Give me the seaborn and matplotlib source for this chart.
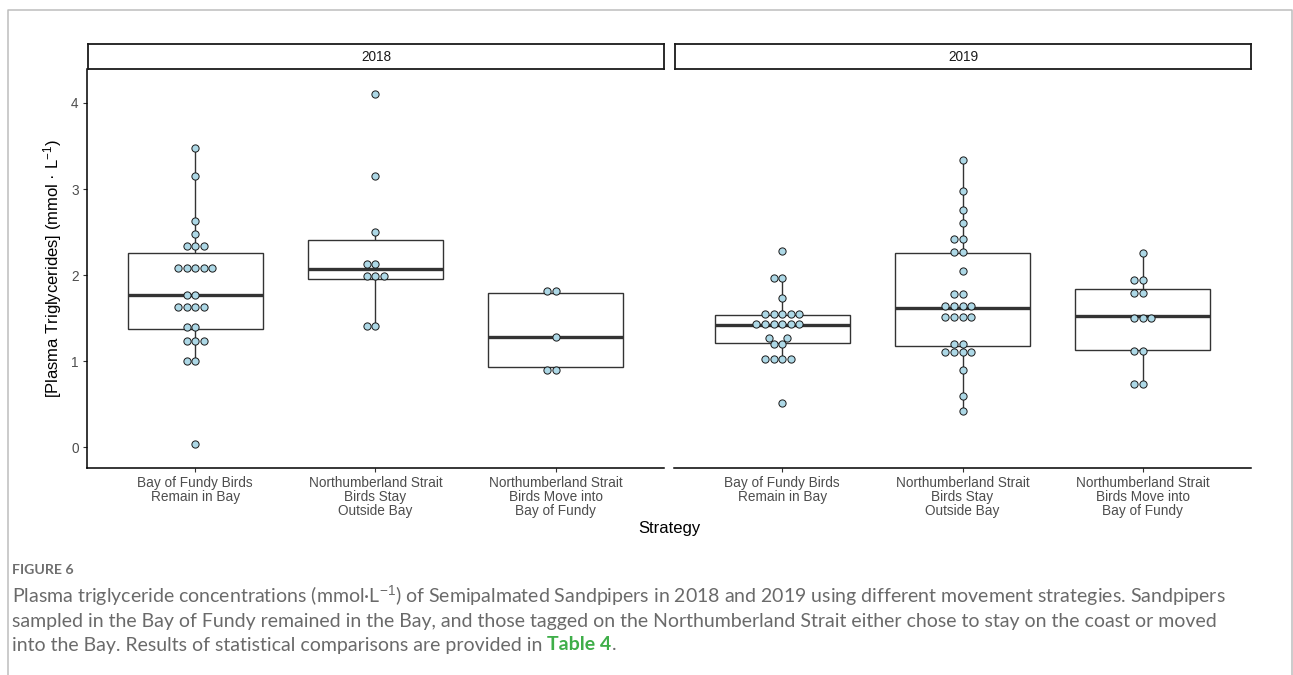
import matplotlib
matplotlib.use("Agg")
import matplotlib.pyplot as plt
import numpy as np
import pandas as pd
import seaborn as sns
from matplotlib.lines import Line2D

# ---- data: plasma triglycerides (mmol/L) by year and movement strategy ----
strategies = [
    "Bay of Fundy Birds\nRemain in Bay",
    "Northumberland Strait\nBirds Stay\nOutside Bay",
    "Northumberland Strait\nBirds Move into\nBay of Fundy",
]
years = ["2018", "2019"]

tg_2018_fundy = [0.04, 0.99, 1.02, 1.21, 1.23, 1.26, 1.36, 1.43, 1.60, 1.62,
                 1.65, 1.67, 1.75, 1.79, 2.05, 2.07, 2.08, 2.09, 2.11, 2.30,
                 2.33, 2.37, 2.48, 2.63, 3.15, 3.48]
tg_2018_stay = [1.40, 1.41, 1.95, 1.97, 2.025, 2.12, 2.14, 2.50, 3.15, 4.10]
tg_2018_move = [0.86, 0.93, 1.28, 1.79, 1.85]

tg_2019_fundy = [0.52, 1.00, 1.01, 1.03, 1.05, 1.17, 1.22, 1.255, 1.29, 1.395,
                 1.40, 1.41, 1.42, 1.45, 1.47, 1.51, 1.52, 1.53, 1.55, 1.585,
                 1.73, 1.95, 1.99, 2.28]
tg_2019_stay = [0.42, 0.60, 0.90, 1.065, 1.09, 1.11, 1.14, 1.19, 1.21, 1.48,
                1.50, 1.52, 1.54, 1.61, 1.63, 1.65, 1.68, 1.76, 1.80, 2.05,
                2.24, 2.29, 2.40, 2.44, 2.60, 2.76, 2.98, 3.34]
tg_2019_move = [0.71, 0.75, 1.10, 1.145, 1.465, 1.52, 1.535, 1.76, 1.815, 1.93,
                1.96, 2.26]

groups = {
    ("2018", strategies[0]): tg_2018_fundy,
    ("2018", strategies[1]): tg_2018_stay,
    ("2018", strategies[2]): tg_2018_move,
    ("2019", strategies[0]): tg_2019_fundy,
    ("2019", strategies[1]): tg_2019_stay,
    ("2019", strategies[2]): tg_2019_move,
}

DOT_BINWIDTH = 0.08


def dot_bins(values, binwidth=DOT_BINWIDTH):
    """Dot-density binning: each dot sits at the centre of its bin's values."""
    v = np.sort(np.asarray(values, dtype=float))
    out = np.empty_like(v)
    i = 0
    while i < len(v):
        j = i
        while j < len(v) and v[j] < v[i] + binwidth - 1e-9:
            j += 1
        out[i:j] = (v[i] + v[j - 1]) / 2
        i = j
    return out


rows = []
for (yr, st), vals in groups.items():
    for raw, binned in zip(np.sort(vals), dot_bins(vals)):
        rows.append((yr, st, raw, binned))
df = pd.DataFrame(rows, columns=["year", "strategy", "tg", "tg_dot"])

# ---- style ----
sns.set_theme(style="ticks")
plt.rcParams["font.family"] = ["Liberation Sans", "DejaVu Sans"]
plt.rcParams["mathtext.fontset"] = "custom"
plt.rcParams["mathtext.rm"] = "Liberation Sans"
plt.rcParams["mathtext.it"] = "Liberation Sans:italic"
plt.rcParams["mathtext.bf"] = "Liberation Sans:bold"

W, H = 1293, 675
fig = plt.figure(figsize=(W / 100, H / 100), dpi=100)
fig.patch.set_facecolor("white")


def box(x0, y0, x1, y1):
    """Pixel box (top-left origin) -> figure fraction rect."""
    return [x0 / W, 1 - y1 / H, (x1 - x0) / W, (y1 - y0) / H]


panel_top, panel_bottom = 69.3, 467.7
panels = [(87.0, 664.0), (674.0, 1251.0)]
tick_grey = "#4D4D4D"
line_grey = "#333333"

for i, (yr, (px0, px1)) in enumerate(zip(years, panels)):
    ax = fig.add_axes(box(px0, panel_top, px1, panel_bottom))
    sub = df[df["year"] == yr]
    sns.boxplot(data=sub, x="strategy", y="tg", order=strategies, ax=ax,
                width=0.75, color="white", linecolor=line_grey, linewidth=1.0,
                showfliers=False, showcaps=False, whis=1.5,
                medianprops=dict(linewidth=2.4, color=line_grey))
    sns.swarmplot(data=sub, x="strategy", y="tg_dot", order=strategies, ax=ax,
                  color="#ADD8E6", edgecolor="#1A1A1A", linewidth=0.7, size=5.2)
    ax.set_xlim(-0.6, 2.6)
    ax.set_ylim(-0.237, 4.391)
    ax.set_xlabel("")
    ax.set_ylabel("")
    ax.spines["top"].set_visible(False)
    ax.spines["right"].set_visible(False)
    ax.spines["bottom"].set_linewidth(1.1)
    ax.spines["bottom"].set_color("black")
    ax.tick_params(axis="x", length=3, width=0.8, color=line_grey, pad=3,
                   labelsize=9.8, labelcolor=tick_grey)
    for lab in ax.get_xticklabels():
        lab.set_linespacing(0.98)
    if i == 0:
        ax.spines["left"].set_linewidth(1.1)
        ax.spines["left"].set_color("black")
        ax.set_yticks([0, 1, 2, 3, 4])
        ax.tick_params(axis="y", length=3, width=0.8, color=line_grey, pad=3,
                       labelsize=9.8, labelcolor=tick_grey)
    else:
        ax.spines["left"].set_visible(False)
        ax.set_yticks([])

    # facet strip
    sax = fig.add_axes(box(px0 + 0.7, 44.3, px1 + 0.3, panel_top))
    sax.set_xticks([])
    sax.set_yticks([])
    sax.set_facecolor("white")
    for sp in sax.spines.values():
        sp.set_color("#1A1A1A")
        sp.set_linewidth(1.3)
    sax.text(0.5, 0.5, yr, ha="center", va="center", fontsize=9.8,
             color="#1A1A1A", transform=sax.transAxes)

# axis titles
fig.text(669 / W, 1 - 529 / H, "Strategy", ha="center", va="center",
         fontsize=12, color="black")
fig.text(53 / W, 1 - 269 / H,
         "[Plasma Triglycerides] (mmol \u00b7 L$^{-1}$)",
         ha="center", va="center", rotation=90, fontsize=12, color="black")

# ---- caption ----
cap_font = ["Lato", "DejaVu Sans"]
cap_grey = "#6A6A6A"
renderer = fig.canvas.get_renderer()

fig.text(12 / W, 1 - 570 / H, "FIGURE 6", fontsize=10.2, color="#6E6E6E",
         family=cap_font, fontweight="bold", va="center", ha="left")

line1 = ("Plasma triglyceride concentrations (mmol\u00b7L$^{-1}$) of Semipalmated "
         "Sandpipers in 2018 and 2019 using different movement strategies. Sandpipers")
line2 = ("sampled in the Bay of Fundy remained in the Bay, and those tagged on the "
         "Northumberland Strait either chose to stay on the coast or moved")
line3a = "into the Bay. Results of statistical comparisons are provided in "

t1 = fig.text(12 / W, 1 - 596 / H, line1, fontsize=12, color=cap_grey,
              family=cap_font, va="center", ha="left")
# size the caption so the first line fills the text block width
w1 = t1.get_window_extent(renderer).width
cap_size = 12 * (1220 - 12) / w1
t1.set_fontsize(cap_size)
fig.text(12 / W, 1 - 621 / H, line2, fontsize=cap_size, color=cap_grey,
         family=cap_font, va="center", ha="left")
t3 = fig.text(12 / W, 1 - 645 / H, line3a, fontsize=cap_size, color=cap_grey,
              family=cap_font, va="center", ha="left")
x_end = t3.get_window_extent(renderer).x1
t4 = fig.text(x_end / W, 1 - 645 / H, "Table 4", fontsize=cap_size,
              color="#3FAE49", family=cap_font, fontweight="bold",
              va="center", ha="left")
x_end = t4.get_window_extent(renderer).x1
fig.text(x_end / W, 1 - 645 / H, ".", fontsize=cap_size, color=cap_grey,
         family=cap_font, va="center", ha="left")

# frame around the figure block
frame_col = "#BDBDBD"
xl, xr, yt = 7.5 / W, 1291.5 / W, 1 - 10 / H
fig.add_artist(Line2D([xl, xl, xr, xr], [0, yt, yt, 0], color=frame_col,
                      linewidth=1.1, transform=fig.transFigure))

fig.savefig("out.png", dpi=100, facecolor="white")
